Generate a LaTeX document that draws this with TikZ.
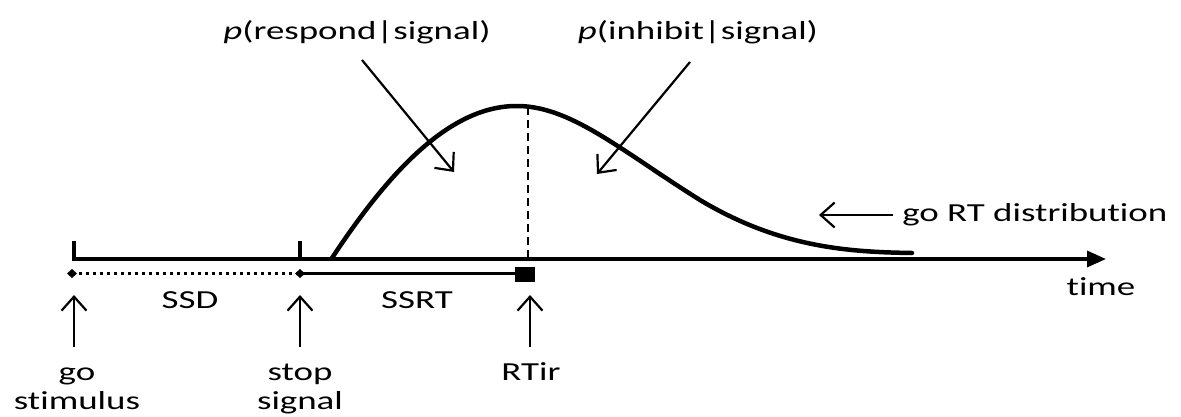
\documentclass[tikz,border=0pt]{standalone}
\usepackage{fontspec}
\setmainfont{Carlito}[Ligatures=NoCommon]
\usetikzlibrary{arrows.meta}
\begin{document}
\begin{tikzpicture}[x=1pt,y=-1pt,
  lbl/.style={inner sep=0pt, font=\fontsize{26}{29}\selectfont, align=center, xscale=1.42},
  thinarrow/.style={line width=2.2pt, -{Straight Barb[length=14pt,width=25pt,line width=2.2pt]}},
  axisline/.style={line width=3.4pt},
  curveline/.style={line width=4.5pt, line cap=round}]
\useasboundingbox (0,0) rectangle (1181,416);
\fill[white] (0,0) rectangle (1181,416);

% coordinates
\coordinate (ax0) at (72,259);
\coordinate (axend) at (1106,259);
\coordinate (goTick) at (74,241);
\coordinate (goAx) at (74,259);
\coordinate (stTick) at (300,241);
\coordinate (stAx) at (300,259);
\coordinate (dotL) at (72,273.5);
\coordinate (dotR) at (300,273.5);
\coordinate (peak) at (528,107);
\coordinate (peakAx) at (528,259);

% time axis
\draw[axisline, -{Triangle[length=19pt,width=16pt]}] (ax0) -- (axend);
\draw[line width=4.5pt] (goTick) -- (goAx);
\draw[line width=4.5pt] (stTick) -- (stAx);

% lower line: SSD dotted, SSRT solid
\draw[line width=2.8pt, dash pattern=on 3pt off 4pt] (dotL) -- (dotR);
\fill (dotL) +(-5,0) -- +(0,-4.5) -- +(5,0) -- +(0,4.5) -- cycle;
\fill (dotR) +(-5,0) -- +(0,-4.5) -- +(5,0) -- +(0,4.5) -- cycle;
\node[fill=black, minimum width=20pt, minimum height=15pt, inner sep=0pt] (rtbox) at (525,274.5) {};
\draw[line width=2.8pt] (dotR) -- (rtbox.west|-dotR);

% distribution curve
\draw[curveline] (332,258) .. controls (390,170) and (450,107) .. (515,106)
  .. controls (570,105) and (620,150) .. (700,200)
  .. controls (780,248) and (850,252) .. (912,253);
\draw[line width=2.8pt, dash pattern=on 8pt off 5pt] (peak) -- (peakAx);

% labels
\node[lbl] (resp) at (357,32) {\textit{p}(respond|signal)};
\node[lbl] (inh) at (698,32) {\textit{p}(inhibit|signal)};
\node[lbl, anchor=west] (dist) at (902,215) {go RT distribution};
\node[lbl] (time) at (1101,287) {time};
\node[lbl] (ssd) at (190,300) {SSD};
\node[lbl] (ssrt) at (417,300) {SSRT};
\node[lbl, anchor=base] (go) at (77,409) {go\\stimulus};
\node[lbl, anchor=base] (stop) at (300,409) {stop\\signal};
\node[lbl, anchor=base] (rtir) at (531,380) {RTir};

\coordinate (respTip) at (454,172);
\coordinate (inhTip) at (597,174);
\coordinate (distTip) at (819,215);
\coordinate (goTip) at (74,295);
\coordinate (stopTip) at (300,295);
\coordinate (rtirTip) at (530,295);

\draw[thinarrow] (362,60) -- (respTip);
\draw[thinarrow] (690,62) -- (inhTip);
\draw[thinarrow] (dist.west) ++(-9,0) -- (distTip);
\draw[thinarrow] (74,347) -- (goTip);
\draw[thinarrow] (300,347) -- (stopTip);
\draw[thinarrow] (530,347) -- (rtirTip);
\end{tikzpicture}
\end{document}
